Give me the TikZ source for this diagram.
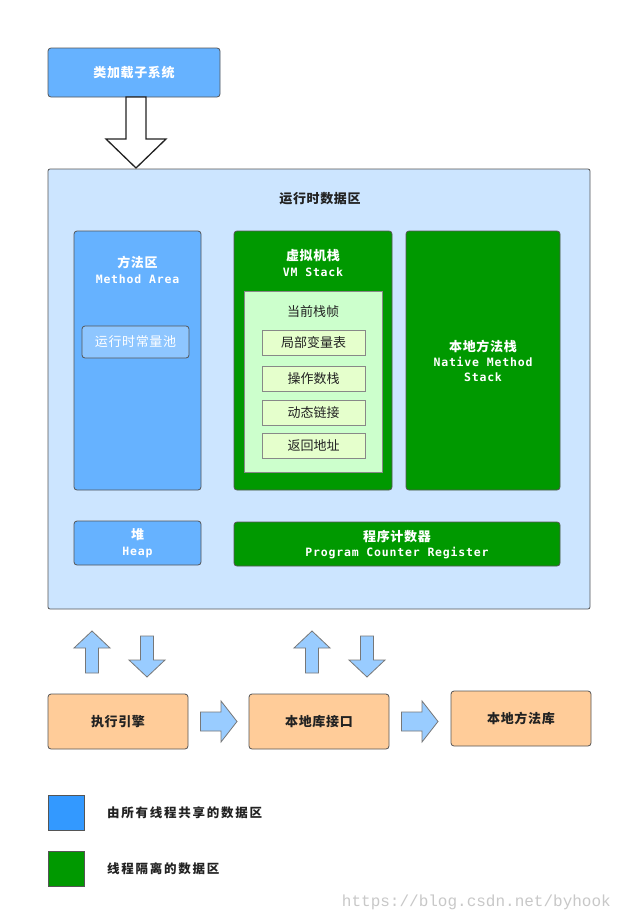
\documentclass[tikz,border=0pt]{standalone}
\usepackage{fontspec}
\setmainfont{Noto Sans CJK SC}
\newfontfamily\monof[LetterSpace=7]{DejaVu Sans Mono}
\newfontfamily\wmfont{Liberation Mono}
\definecolor{blueA}{HTML}{66B2FF}
\definecolor{blueB}{HTML}{CCE5FF}
\definecolor{blueC}{HTML}{8EC6FF}
\definecolor{blueD}{HTML}{3399FF}
\definecolor{arrowblue}{HTML}{99CCFF}
\definecolor{greenA}{HTML}{009900}
\definecolor{greenB}{HTML}{CCFFCC}
\definecolor{greenC}{HTML}{E5FFCC}
\definecolor{orangeA}{HTML}{FFCC99}
\definecolor{boxline}{HTML}{555555}
\definecolor{darktext}{HTML}{222222}
\definecolor{wmgray}{HTML}{C8C8C8}
\newcommand\bx[6]{\node[box,#2,minimum width=#5pt-#3pt,minimum height=#6pt-#4pt,anchor=north west] (#1) at (#3,#4) {};}
\tikzset{
  box/.style={draw=boxline, line width=0.8pt, rounded corners=3pt, inner sep=0pt, outer sep=0pt},
  wlab/.style={text=white, inner sep=0pt, font=\bfseries\addfontfeature{LetterSpace=5}\fontsize{13}{15}\selectfont},
  mlab/.style={text=white, inner sep=0pt, font=\monof\bfseries\fontsize{11.5}{13}\selectfont},
  dlab/.style={text=darktext, inner sep=0pt, font=\fontsize{13}{15}\selectfont},
  blab/.style={text=darktext, inner sep=0pt, font=\bfseries\addfontfeature{LetterSpace=5}\fontsize{13}{15}\selectfont},
  leglab/.style={text=darktext, inner sep=0pt, anchor=west, font=\bfseries\addfontfeature{LetterSpace=14}\fontsize{12.5}{15}\selectfont},
  blockarrow/.style={draw=boxline!80, fill=arrowblue, line width=0.8pt, line join=miter},
  hollowarrow/.style={draw=darktext, fill=white, line width=1.3pt, line join=miter}
}
\begin{document}
\begin{tikzpicture}[x=1pt,y=-1pt]
\useasboundingbox (0,0) rectangle (623,921);
\fill[white] (0,0) rectangle (623,921);

% class loader
\bx{loader}{fill=blueA}{48}{48}{220}{97}
\node[wlab] (loadert) at (loader.center) {类加载子系统};
\draw[hollowarrow] (126,97) -- (126,139) -- (106,139) -- (136,168) -- (166,139) -- (146,139) -- (146,97) -- cycle;

% runtime data area
\bx{rda}{fill=blueB,rounded corners=2pt}{48}{169}{590}{609}
\node[blab] (rdat) at (320,199) {运行时数据区};

% method area
\bx{method}{fill=blueA}{74}{231}{201}{490}
\node[wlab] (methodt) at (137.5,262) {方法区};
\node[mlab] (methode) at (137.5,279) {Method Area};
\bx{pool}{fill=blueC}{82}{326}{189}{358}
\node[wlab,font=\addfontfeature{LetterSpace=5}\fontsize{13}{15}\selectfont] (poolt) at (pool.center) {运行时常量池};

% VM stack
\bx{vms}{fill=greenA}{234}{231}{392}{490}
\node[wlab] (vmst) at (313,256) {虚拟机栈};
\node[mlab] (vmse) at (313,272) {VM Stack};
\bx{frame}{fill=greenB,rounded corners=0pt,draw=boxline!70}{244}{291}{382}{472}
\node[dlab] (framet) at (313,312) {当前栈帧};
\bx{lv}{fill=greenC,rounded corners=0pt,draw=boxline!70}{262}{330}{365}{355}
\node[dlab] at (lv.center) {局部变量表};
\bx{os}{fill=greenC,rounded corners=0pt,draw=boxline!70}{262}{366}{365}{391}
\node[dlab] at (os.center) {操作数栈};
\bx{dl}{fill=greenC,rounded corners=0pt,draw=boxline!70}{262}{400}{365}{425}
\node[dlab] at (dl.center) {动态链接};
\bx{ra}{fill=greenC,rounded corners=0pt,draw=boxline!70}{262}{433}{365}{458}
\node[dlab] at (ra.center) {返回地址};

% native method stack
\bx{nms}{fill=greenA}{406}{231}{560}{490}
\node[wlab] (nmst) at (483,346) {本地方法栈};
\node[mlab] (nmse1) at (483,362) {Native Method};
\node[mlab] (nmse2) at (483,377) {Stack};

% heap
\bx{heap}{fill=blueA}{74}{521}{201}{565}
\node[wlab] (heapt) at (137.5,535) {堆};
\node[mlab] (heape) at (137.5,552) {Heap};

% PC register
\bx{pc}{fill=greenA}{234}{522}{560}{566}
\node[wlab] (pct) at (397,537) {程序计数器};
\node[mlab] (pce) at (397,553) {Program Counter Register};

% vertical arrows
\draw[blockarrow] (85.5,673) -- (85.5,648) -- (74,648) -- (92,631) -- (110,648) -- (98.5,648) -- (98.5,673) -- cycle;
\draw[blockarrow] (140.5,636) -- (140.5,660) -- (129,660) -- (147,677) -- (165,660) -- (153.5,660) -- (153.5,636) -- cycle;
\draw[blockarrow] (305.5,673) -- (305.5,648) -- (294,648) -- (312,631) -- (330,648) -- (318.5,648) -- (318.5,673) -- cycle;
\draw[blockarrow] (360.5,636) -- (360.5,660) -- (349,660) -- (367,677) -- (385,660) -- (373.5,660) -- (373.5,636) -- cycle;

% bottom boxes
\bx{engine}{fill=orangeA}{48}{694}{188}{749}
\node[blab] (enginet) at (engine.center) {执行引擎};
\bx{jni}{fill=orangeA}{249}{694}{389}{749}
\node[blab] (jnit) at (jni.center) {本地库接口};
\bx{nlib}{fill=orangeA}{451}{691}{591}{746}
\node[blab] (nlibt) at (nlib.center) {本地方法库};

% horizontal arrows
\draw[blockarrow] (200.5,712) -- (221,712) -- (221,701) -- (237,721.5) -- (221,742) -- (221,731) -- (200.5,731) -- cycle;
\draw[blockarrow] (401.5,712) -- (422,712) -- (422,701) -- (438,721.5) -- (422,742) -- (422,731) -- (401.5,731) -- cycle;

% legend
\bx{legblue}{fill=blueD,rounded corners=0pt}{48}{795}{84}{830}
\node[leglab] (legbluet) at (107,813) {由所有线程共享的数据区};
\bx{leggreen}{fill=greenA,rounded corners=0pt}{48}{851}{84}{886}
\node[leglab] (leggreent) at (107,869) {线程隔离的数据区};

% watermark
\node[anchor=east, text=wmgray, inner sep=0pt, font=\wmfont\fontsize{16}{18}\selectfont] (wm) at (611,902) {https://blog.csdn.net/byhook};
\end{tikzpicture}
\end{document}
